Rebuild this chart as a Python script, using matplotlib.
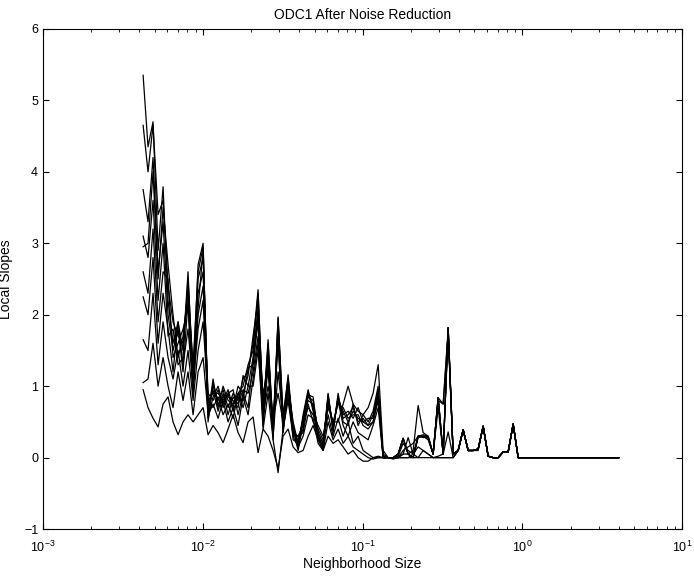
import matplotlib.pyplot as plt

plt.rcParams['font.family'] = ['Liberation Sans', 'DejaVu Sans']

# neighborhood sizes (log spaced)
sizes = [0.00423, 0.00454, 0.00488, 0.00525, 0.00564, 0.00606, 0.00651, 0.00700,
         0.00752, 0.00808, 0.00869, 0.00934, 0.01004, 0.01079, 0.01159, 0.01246,
         0.01339, 0.01439, 0.01547, 0.01662, 0.01786, 0.01920, 0.02063, 0.02217,
         0.02383, 0.02561, 0.02753, 0.02958, 0.03179, 0.03417, 0.03673, 0.03947,
         0.04242, 0.04559, 0.04899, 0.05265, 0.05659, 0.06082, 0.06536, 0.07024,
         0.07551, 0.08113, 0.08720, 0.09373, 0.1007, 0.1083, 0.1163, 0.1251,
         0.1344, 0.1444, 0.1552, 0.1668, 0.1793, 0.1927, 0.2071, 0.2226,
         0.2392, 0.2571, 0.2763, 0.2970, 0.3192, 0.3430, 0.3686, 0.3962,
         0.4258, 0.4576, 0.4918, 0.5285, 0.5680, 0.6105, 0.6561, 0.7051,
         0.7578, 0.8144, 0.8753, 0.9408, 1.011, 4.0]

# local slopes, one list per curve
s1 = [5.35, 4.35, 4.7, 2.9, 3.79, 2.2, 1.6, 1.9, 1.5, 2.6, 1.0, 2.1, 2.9, 0.7,
      1.0, 0.8, 0.95, 0.7, 0.9, 0.8, 1.1, 1.2, 1.6, 2.35, 0.6, 1.65, 0.4, 1.97, 0.5, 1.16, 0.4,
      0.2, 0.55, 0.92, 0.7, 0.3, 0.15, 0.88, 0.4, 0.85, 0.55, 0.6, 0.7, 0.5, 0.55, 0.45, 0.6, 0.95, 0.0,
      0, 0, 0.05, 0.27, 0.05, 0, 0.3, 0.3, 0.28, 0.05, 0.84, 0.05, 1.82, 0.05,
      0.1, 0.39, 0.1, 0.1, 0.12, 0.44, 0.02, 0, 0, 0.08, 0.08, 0.47, 0, 0, 0]
s2 = [4.65, 4.0, 4.65, 3.4, 3.6, 2.4, 1.9, 1.7, 1.6, 2.4, 1.1, 2.7, 3.0, 0.6,
      1.1, 0.7, 1.0, 0.8, 0.75, 0.9, 1.0, 1.3, 1.5, 2.3, 0.7, 1.5, 0.3, 1.9, 0.45, 1.1, 0.35,
      0.25, 0.5, 0.85, 0.8, 0.35, 0.2, 0.8, 0.45, 0.8, 0.65, 0.5, 0.65, 0.55, 0.5, 0.55, 0.55, 0.9, 0.02,
      0, 0, 0.02, 0.2, 0.1, 0.05, 0.3, 0.32, 0.3, 0.05, 0.8, 0.75, 1.8, 0.05,
      0.1, 0.38, 0.1, 0.1, 0.12, 0.43, 0.02, 0, 0, 0.08, 0.08, 0.47, 0, 0, 0]
s3 = [3.75, 3.3, 4.2, 2.6, 3.3, 2.0, 1.5, 1.8, 1.2, 2.2, 0.9, 2.5, 2.8, 0.8,
      0.9, 0.9, 0.8, 0.95, 0.7, 1.0, 0.9, 1.15, 1.7, 2.2, 0.5, 1.6, 0.35, 1.85, 0.4, 1.05, 0.45,
      0.15, 0.6, 0.95, 0.65, 0.25, 0.18, 0.9, 0.35, 0.9, 0.5, 0.45, 0.75, 0.45, 0.6, 0.5, 0.65, 1.0, 0.0,
      0, 0, 0.05, 0.27, 0.05, 0, 0.28, 0.3, 0.25, 0.05, 0.84, 0.05, 1.82, 0.05,
      0.1, 0.39, 0.1, 0.1, 0.12, 0.44, 0.02, 0, 0, 0.08, 0.08, 0.47, 0, 0, 0]
s4 = [3.1, 2.8, 3.6, 2.2, 3.0, 1.7, 1.8, 1.3, 1.4, 2.5, 1.2, 2.3, 2.6, 0.5,
      1.05, 0.75, 0.85, 0.85, 0.8, 0.7, 1.15, 1.0, 1.4, 2.1, 0.8, 1.4, 0.25, 1.95, 0.6, 1.1, 0.3,
      0.3, 0.45, 0.8, 0.75, 0.4, 0.25, 0.75, 0.5, 0.75, 0.7, 0.55, 0.6, 0.6, 0.45, 0.4, 0.5, 0.85, 0.05,
      0, 0, 0, 0.1, 0.15, 0.2, 0.3, 0.28, 0.3, 0.05, 0.7, 0.05, 1.75, 0.05,
      0.1, 0.39, 0.1, 0.1, 0.12, 0.44, 0.02, 0, 0, 0.08, 0.08, 0.47, 0, 0, 0]
s5 = [2.6, 2.3, 3.2, 1.9, 2.6, 2.5, 1.4, 1.6, 1.8, 2.1, 0.9, 2.0, 2.4, 0.9,
      0.8, 0.95, 0.7, 0.9, 0.65, 0.85, 0.8, 1.25, 1.3, 1.9, 0.45, 1.3, 0.5, 1.6, 0.35, 1.0, 0.5,
      0.2, 0.4, 0.88, 0.85, 0.3, 0.12, 0.85, 0.42, 0.8, 0.45, 0.3, 0.5, 0.35, 0.3, 0.25, 0.45, 0.7, 0.0,
      0, 0, 0.05, 0.27, 0.05, 0, 0.3, 0.3, 0.28, 0.05, 0.84, 0.05, 1.82, 0.05,
      0.1, 0.39, 0.1, 0.1, 0.12, 0.44, 0.02, 0, 0, 0.08, 0.08, 0.47, 0, 0, 0]
s6 = [2.25, 2.0, 2.8, 1.6, 2.3, 1.8, 1.2, 1.9, 1.3, 1.8, 1.0, 1.8, 2.2, 0.7,
      0.95, 0.65, 0.9, 0.6, 0.85, 0.75, 0.95, 0.9, 1.2, 1.7, 0.9, 1.2, 0.3, 1.2, 0.55, 0.95, 0.4,
      0.1, 0.5, 0.7, 0.6, 0.45, 0.3, 0.7, 0.5, 0.5, 0.75, 1.0, 0.75, 0.65, 0.6, 0.7, 0.9, 1.3, 0.1,
      0, 0, 0, 0.05, 0.05, 0.1, 0.73, 0.35, 0.3, 0.05, 0.84, 0.75, 1.75, 0.05,
      0.1, 0.39, 0.1, 0.1, 0.1, 0.44, 0.02, 0, 0, 0.08, 0.08, 0.47, 0, 0, 0]
s7 = [1.65, 1.5, 2.3, 1.3, 1.9, 1.4, 1.1, 1.5, 1.0, 1.5, 0.8, 1.5, 1.9, 0.8,
      0.7, 0.85, 0.6, 0.75, 0.55, 0.9, 0.7, 1.0, 1.0, 1.5, 0.6, 1.0, 0.55, 0.9, 0.5, 0.85, 0.35,
      0.3, 0.35, 0.75, 0.5, 0.35, 0.2, 0.6, 0.3, 0.55, 0.3, 0.5, 0.2, 0.3, 0.1, 0.05, 0.0, 0.02, 0.0,
      0, 0, 0, 0.05, 0.28, 0.05, 0, 0.1, 0.05, 0, 0.02, 0.05, 0.36, 0,
      0.1, 0.39, 0.1, 0.1, 0.12, 0.44, 0.02, 0, 0, 0.08, 0.08, 0.47, 0, 0, 0]
s8 = [1.05, 1.1, 1.6, 1.0, 1.4, 1.0, 0.7, 1.2, 0.8, 1.2, 0.6, 1.2, 1.4, 0.6,
      0.75, 0.55, 0.8, 0.5, 0.7, 0.45, 0.85, 0.6, 1.1, 1.6, 0.4, 0.9, 0.25, -0.21, 0.4, 0.8, 0.3,
      0.15, 0.3, 0.6, 0.55, 0.2, 0.1, 0.5, 0.25, 0.4, 0.2, 0.3, 0.15, 0.1, 0.05, 0.0, -0.02, 0.0, 0.0,
      0, 0, 0, 0, 0, 0.05, 0.15, 0.1, 0.05, 0, 0, 0, 0, 0,
      0.1, 0.39, 0.1, 0.1, 0.12, 0.44, 0.02, 0, 0, 0.08, 0.08, 0.47, 0, 0, 0]
s9 = [0.95, 0.7, 0.55, 0.43, 0.75, 0.85, 0.5, 0.32, 0.5, 0.6, 0.5, 0.6, 0.7, 0.32,
      0.45, 0.35, 0.21, 0.4, 0.6, 0.35, 0.21, 0.5, 0.57, 0.07, 0.4, 0.3, 0.1, -0.15, 0.3, 0.4, 0.15,
      0.07, 0.1, 0.3, 0.45, 0.25, 0.1, 0.3, 0.2, 0.25, 0.15, 0.05, 0.1, 0.0, -0.05, -0.05, 0.0, 0.0, 0.0,
      0, -0.02, 0, 0, 0, 0, 0, 0, 0, 0, 0, 0, 0, 0,
      0.1, 0.39, 0.1, 0.1, 0.12, 0.44, 0.02, 0, 0, 0.08, 0.08, 0.47, 0, 0, 0]
s10 = [2.95, 3.0, 4.0, 2.5, 3.5, 2.7, 2.0, 1.4, 1.7, 2.3, 1.3, 2.6, 2.95, 0.55,
       0.85, 1.0, 0.75, 0.9, 0.95, 0.6, 0.9, 0.7, 1.35, 2.0, 0.55, 1.5, 0.45, 1.7, 0.35, 1.0, 0.25,
       0.2, 0.55, 0.9, 0.7, 0.3, 0.15, 0.85, 0.38, 0.85, 0.6, 0.65, 0.55, 0.7, 0.5, 0.45, 0.5, 0.8, 0.0,
       0, 0, 0.05, 0.27, 0.05, 0, 0.3, 0.3, 0.28, 0.05, 0.84, 0.05, 1.82, 0.05,
       0.1, 0.39, 0.1, 0.1, 0.12, 0.44, 0.02, 0, 0, 0.08, 0.08, 0.47, 0, 0, 0]

curves = [s1, s2, s3, s4, s5, s6, s7, s8, s9, s10]

fig = plt.figure(figsize=(6.94, 5.77), dpi=100)
ax = fig.add_axes([0.062, 0.083, 0.921, 0.867])

for c in curves:
    ax.plot(sizes, c, color='black', lw=0.9)

ax.set_xscale('log')
ax.set_xlim(1e-3, 10)
ax.set_ylim(-1, 6)
ax.set_yticks(range(-1, 7))
ax.tick_params(which='both', direction='in', top=True, right=True, labelsize=9)
ax.tick_params(which='major', length=4)
ax.tick_params(which='minor', length=2)
ax.tick_params(axis='x', which='major', pad=8)

ax.set_title("ODC1 After Noise Reduction", fontsize=10, pad=7)
ax.set_xlabel("Neighborhood Size", fontsize=10, labelpad=1)
ax.set_ylabel("Local Slopes", fontsize=10, labelpad=8)

plt.savefig('out.png', dpi=100)
